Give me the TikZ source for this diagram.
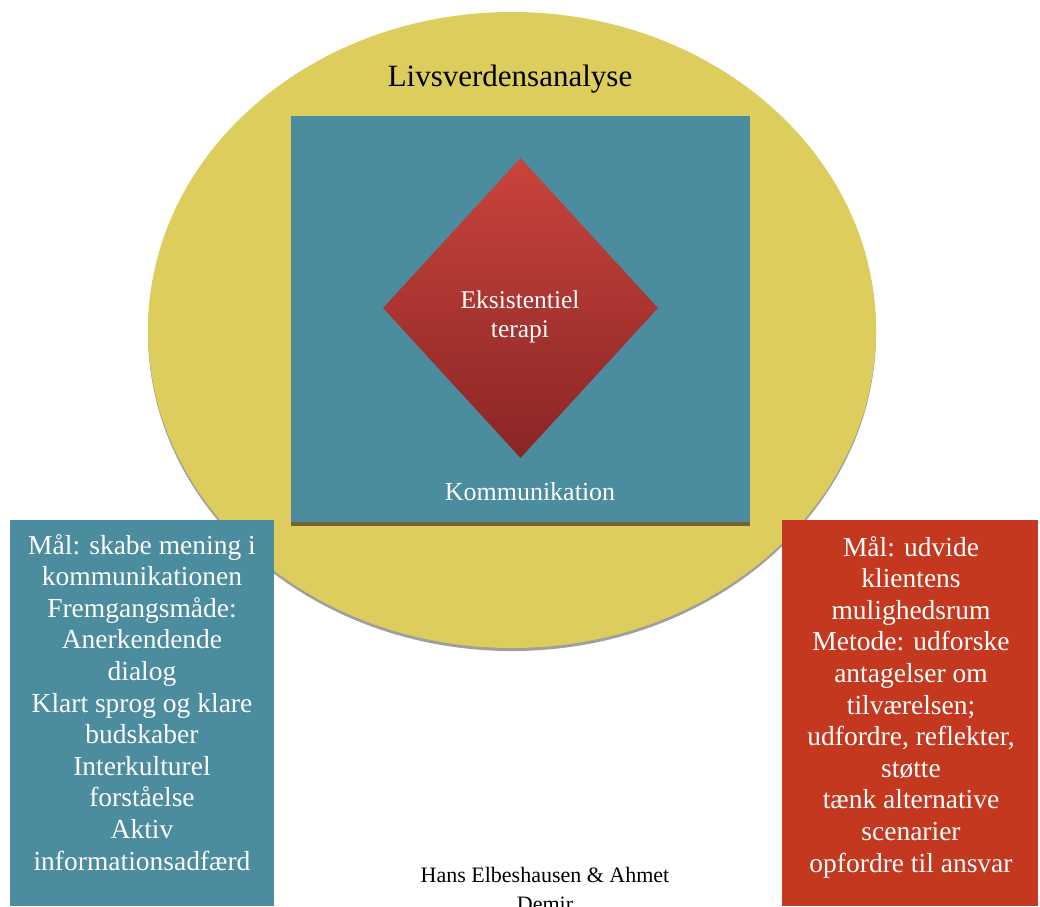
\documentclass[tikz,border=0pt]{standalone}
\usepackage{fontspec}
\setmainfont{Liberation Serif}
\usetikzlibrary{shapes.geometric}
\definecolor{blueBox}{HTML}{4B8C9E}
\definecolor{yellowE}{HTML}{DCCD5C}
\definecolor{redBox}{HTML}{C43820}
\definecolor{diaTop}{HTML}{C9443C}
\definecolor{diaBot}{HTML}{8A2525}
\definecolor{shadowBrown}{HTML}{76622E}
\tikzset{
  txt/.style={inner sep=0pt, anchor=base, align=center},
  boxtext/.style={txt, text=white, font=\fontsize{27.5}{31.6}\selectfont},
}
\begin{document}
\begin{tikzpicture}[x=1pt,y=-1pt]
\clip (0,0) rectangle (1040,906);
\fill[white] (0,0) rectangle (1040,906);
% ellipse with shadow
\node[ellipse, fill=gray!75, minimum width=728pt, minimum height=636pt, inner sep=0pt] (shadowE) at (512,333) {};
\node[ellipse, fill=yellowE, minimum width=728pt, minimum height=636pt, inner sep=0pt] (world) at (512,330) {};
% square with bottom shadow
\node[rectangle, fill=shadowBrown, minimum width=459pt, minimum height=406pt, inner sep=0pt] (sqshadow) at (520.5,323) {};
\node[rectangle, fill=blueBox, minimum width=459pt, minimum height=406pt, inner sep=0pt] (komm) at (520.5,319) {};
% diamond
\node[diamond, top color=diaTop, bottom color=diaBot, minimum width=275pt, minimum height=300pt, inner sep=0pt] (dia) at (520.5,308) {};
% labels (anchor=base is the baseline of the last line)
\node[txt, font=\fontsize{31}{34}\selectfont] (lv) at (510,86) {Livsverdensanalyse};
\node[txt, text=white, font=\fontsize{25.5}{29}\selectfont] (ek) at (520,337) {Eksistentiel\\terapi};
\node[txt, text=white, font=\fontsize{26}{29}\selectfont] (ko) at (530,500) {Kommunikation};
% side boxes
\fill[blueBox] (10,520) rectangle (274,906);
\fill[redBox] (782,520) rectangle (1038,906);
\node[boxtext] (left) at (142,870) {Mål: skabe mening i\\kommunikationen\\Fremgangsmåde:\\Anerkendende\\dialog\\Klart sprog og klare\\budskaber\\Interkulturel\\forståelse\\Aktiv\\informationsadfærd};
\node[boxtext] (right) at (911,872) {Mål: udvide\\klientens\\mulighedsrum\\Metode: udforske\\antagelser om\\tilværelsen;\\udfordre, reflekter,\\støtte\\tænk alternative\\scenarier\\opfordre til ansvar};
% footer (cut off at the bottom edge, as in the reference)
\node[txt, font=\fontsize{22}{29}\selectfont] (foot) at (545,911) {Hans Elbeshausen \& Ahmet\\Demir};
\end{tikzpicture}
\end{document}
